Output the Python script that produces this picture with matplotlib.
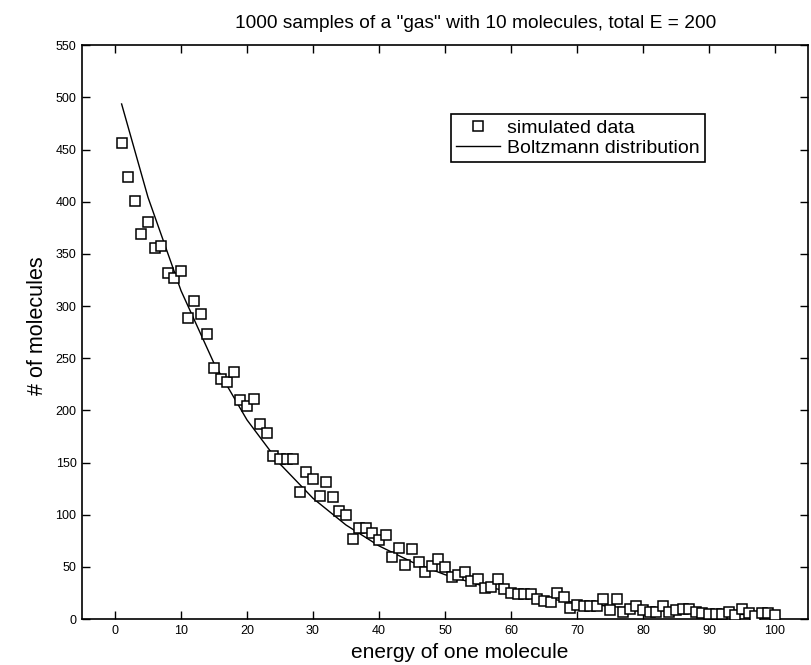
import matplotlib
matplotlib.use("Agg")
import matplotlib.pyplot as plt
import numpy as np

plt.rcParams['font.family'] = ['Liberation Sans', 'DejaVu Sans']

energy = list(range(1, 101))
counts = [456, 424, 401, 369, 381, 356, 358, 332, 327, 334,
          289, 305, 292, 273, 241, 230, 227, 237, 210, 204,
          211, 187, 178, 156, 153, 153, 153, 122, 141, 134,
          118, 131, 117, 104, 100, 77, 87, 87, 83, 76,
          81, 60, 68, 52, 67, 55, 45, 51, 58, 50,
          40, 42, 45, 37, 38, 30, 31, 38, 29, 25,
          24, 24, 24, 19, 17, 16, 25, 21, 11, 14,
          13, 13, 13, 19, 9, 19, 7, 10, 13, 9,
          7, 7, 13, 7, 9, 10, 10, 7, 6, 5,
          5, 5, 7, 4, 10, 6, 3, 6, 6, 4]

boltz_x = [1, 5, 10, 15, 20, 25, 30, 35, 40, 45, 50, 55, 60, 65, 70, 75, 80, 85, 90, 95, 100]
boltz_y = [493.7, 404.2, 314.8, 245.2, 190.9, 148.7, 115.8, 90.2, 70.2, 54.7, 42.6,
           33.2, 25.8, 20.1, 15.7, 12.2, 9.5, 7.4, 5.8, 4.5, 3.5]

xticks = list(range(0, 101, 10))
yticks = list(range(0, 551, 50))

fig = plt.figure(figsize=(8.12, 6.65), dpi=100)
ax = fig.add_axes([0.101, 0.069, 0.894, 0.863])

ax.plot(energy, counts, linestyle='none', marker='s', markersize=6.5,
        markerfacecolor='white', markeredgecolor='black', markeredgewidth=1.1,
        label='simulated data', zorder=3)
ax.plot(boltz_x, boltz_y, color='black', linewidth=1.0, label='Boltzmann distribution', zorder=2)

ax.set_xlim(-5, 105)
ax.set_ylim(0, 550)
ax.set_xticks(xticks)
ax.set_yticks(yticks)
ax.tick_params(direction='in', top=True, right=True, length=6, width=1, labelsize=9, pad=4)
for s in ax.spines.values():
    s.set_linewidth(1.2)

fig.text(476 / 812, 1 - 23 / 665, '1000 samples of a "gas" with 10 molecules, total E = 200',
         fontsize=13.8, ha='center', va='center')
ax.set_xlabel('energy of one molecule', fontsize=15)
ax.xaxis.set_label_coords(0.52, -0.058, transform=ax.transAxes)
ax.xaxis.label.set_va('center')
ax.set_ylabel('# of molecules', fontsize=15.5)
ax.yaxis.set_label_coords(-0.062, 0.512, transform=ax.transAxes)
ax.yaxis.label.set_va('center')

leg = ax.legend(loc='upper left', bbox_to_anchor=(0.508, 0.88), fontsize=14,
                frameon=True, fancybox=False, edgecolor='black', framealpha=1,
                handlelength=2.3, borderpad=0.25, labelspacing=0.15, handletextpad=0.35,
                borderaxespad=0)
leg.get_frame().set_linewidth(1.2)

fig.savefig('out.png', dpi=100)
